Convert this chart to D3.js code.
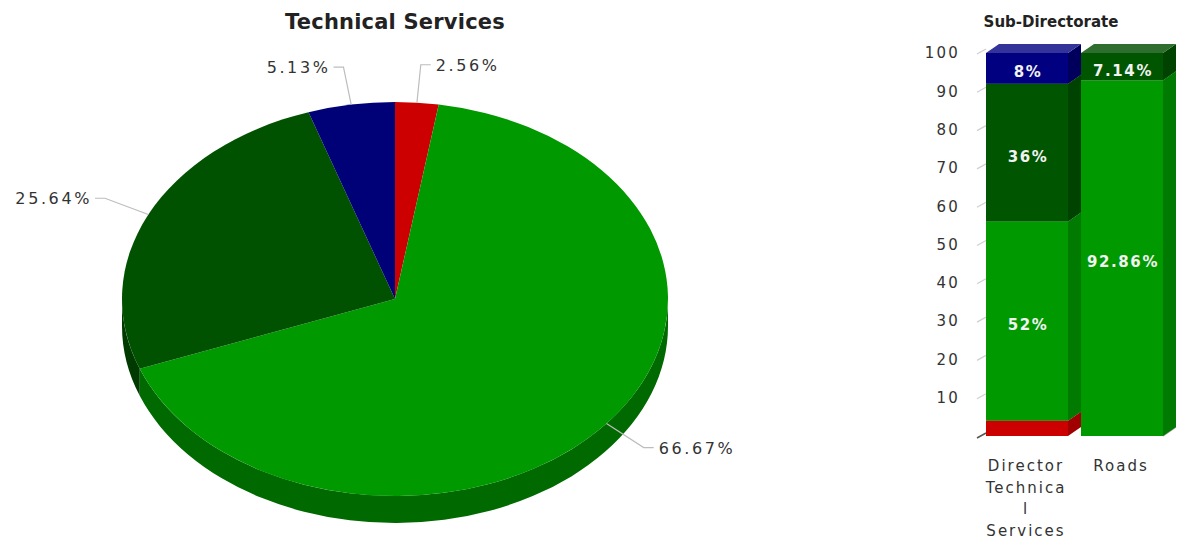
<!DOCTYPE html>
<html>
<head>
<meta charset="utf-8">
<script src="https://cdn.jsdelivr.net/npm/d3@7"></script>
<style>
  html, body { margin: 0; padding: 0; background: #fff; }
  svg { display: block; font-family: "DejaVu Sans", Verdana, sans-serif; }
</style>
</head>
<body>
<svg id="chart" width="1179" height="538"></svg>
<script>
// ---- data ----
const pieTitle = "Technical Services";
const pieValues = [2.56, 66.67, 25.64, 5.13];
const pieColors = ["#cc0000", "#009900", "#005200", "#000077"];
const pieSideColors = ["#990000", "#006a00", "#003a00", "#000050"];

const barTitle = "Sub-Directorate";
const barCategories = ["Director Technical Services", "Roads"];
const barCategoryLines = [["Director", "Technica", "l", "Services"], ["Roads"]];
const seriesRed = [4, 0];
const seriesGreen = [52, 92.86];
const seriesDarkGreen = [36, 7.14];
const seriesNavy = [8, 0];
const barSeries = [seriesRed, seriesGreen, seriesDarkGreen, seriesNavy];
const barShowLabel = [false, true, true, true];
const barFront = ["#cc0000", "#009900", "#005500", "#000080"];
const barSide = ["#a00000", "#007a00", "#004200", "#00005c"];
const barTop = ["#dd4444", "#33ad33", "#2f6e2f", "#333399"];
const yTicks = [10, 20, 30, 40, 50, 60, 70, 80, 90, 100];

const svg = d3.select("#chart");

// ---- 3D pie ----
const cx = 395, cy = 299, rx = 273, ry = 197, depth = 27;
const pt = (a, dy = 0, kx = 0, ky = 0) => [cx + (rx + kx) * Math.sin(a), cy - (ry + ky) * Math.cos(a) + dy];
const arcs = d3.pie().sort(null).value(d => d)(pieValues);

svg.append("text")
  .attr("x", 395).attr("y", 29)
  .attr("text-anchor", "middle")
  .attr("font-size", 21).attr("font-weight", "bold")
  .attr("letter-spacing", 0.2)
  .attr("fill", "#222")
  .text(pieTitle);

const pieG = svg.append("g");

// side walls (only the front half of the rim is visible)
arcs.forEach((d, i) => {
  const s0 = Math.max(d.startAngle, Math.PI / 2);
  const s1 = Math.min(d.endAngle, 3 * Math.PI / 2);
  if (s1 <= s0) return;
  const a = pt(s0), b = pt(s1), c = pt(s1, depth), e = pt(s0, depth);
  const p = `M${a} A${rx},${ry} 0 0 1 ${b} L${c} A${rx},${ry} 0 0 0 ${e} Z`;
  pieG.append("path").attr("d", p).attr("fill", pieSideColors[i]);
});

// top faces
arcs.forEach((d, i) => {
  const a = pt(d.startAngle), b = pt(d.endAngle);
  const large = d.endAngle - d.startAngle > Math.PI ? 1 : 0;
  const p = `M${cx},${cy} L${a} A${rx},${ry} 0 ${large} 1 ${b} Z`;
  pieG.append("path").attr("d", p).attr("fill", pieColors[i]);
});

// leader lines and labels
arcs.forEach((d, i) => {
  const mid = (d.startAngle + d.endAngle) / 2;
  const p0 = pt(mid);
  const p1 = pt(mid, 0, 48, 38);
  const right = Math.sin(mid) >= 0;
  const p2 = [p1[0] + (right ? 10 : -10), p1[1]];
  pieG.append("polyline")
    .attr("points", [p0, p1, p2].map(q => q.join(",")).join(" "))
    .attr("fill", "none").attr("stroke", "#bdbdbd").attr("stroke-width", 1.2);
  pieG.append("text")
    .attr("x", p2[0] + (right ? 5 : -3)).attr("y", p2[1] + 6)
    .attr("text-anchor", right ? "start" : "end")
    .attr("font-size", 16).attr("letter-spacing", 2.6)
    .attr("fill", "#333")
    .text(d3.format(".2f")(pieValues[i]) + "%");
});

// ---- 3D stacked bars ----
const dx = 13, dz = 9;
const x = d3.scaleBand().domain(barCategories).range([986, 1163]).paddingInner(13 / 95).paddingOuter(0).align(0);
const y = d3.scaleLinear().domain([0, 100]).range([436, 53]);
const x0 = 986;

svg.append("text")
  .attr("x", 1051).attr("y", 27)
  .attr("text-anchor", "middle")
  .attr("font-size", 15).attr("font-weight", "bold")
  .attr("fill", "#222")
  .text(barTitle);

const barG = svg.append("g");

// left wall tick marks and floor
yTicks.forEach(t => {
  barG.append("line")
    .attr("x1", x0 - 9).attr("y1", y(t) + 1)
    .attr("x2", x0).attr("y2", y(t) - 4)
    .attr("stroke", "#d0d0d0").attr("stroke-width", 1.3);
});
barG.append("line")
  .attr("x1", x0 - 9).attr("y1", y(0) + 2)
  .attr("x2", x0).attr("y2", y(0) - 3)
  .attr("stroke", "#555").attr("stroke-width", 1.5);
barG.append("line")
  .attr("x1", 1163).attr("y1", y(0))
  .attr("x2", 1176).attr("y2", y(0) - dz)
  .attr("stroke", "#999").attr("stroke-width", 1.2);

// y axis labels
svg.append("g")
  .attr("transform", `translate(${x0 - 30},0)`)
  .call(d3.axisLeft(y).tickValues(yTicks).tickSize(0).tickPadding(0).tickFormat(d3.format("d")))
  .call(g => g.select(".domain").remove())
  .call(g => g.selectAll("text")
    .attr("font-family", "DejaVu Sans, Verdana, sans-serif")
    .attr("font-size", 15).attr("letter-spacing", 2.2)
    .attr("fill", "#333").attr("dx", 4));

// bar segments
barCategories.forEach((cat, ci) => {
  const bx0 = x(cat), bx1 = bx0 + x.bandwidth();
  let base = 0;
  barSeries.forEach((s, si) => {
    const v = s[ci];
    if (!v) return;
    const yb = y(base), yt = y(base + v);
    // front face
    barG.append("rect")
      .attr("x", bx0).attr("y", yt)
      .attr("width", bx1 - bx0).attr("height", yb - yt)
      .attr("fill", barFront[si]);
    // right side
    barG.append("path")
      .attr("d", `M${bx1},${yb} L${bx1 + dx},${yb - dz} L${bx1 + dx},${yt - dz} L${bx1},${yt} Z`)
      .attr("fill", barSide[si]);
    // top face
    barG.append("path")
      .attr("d", `M${bx0},${yt} L${bx0 + dx},${yt - dz} L${bx1 + dx},${yt - dz} L${bx1},${yt} Z`)
      .attr("fill", barTop[si]);
    if (barShowLabel[si]) {
      barG.append("text")
        .attr("x", (bx0 + bx1) / 2 + 1).attr("y", (yb + yt) / 2 + 9)
        .attr("text-anchor", "middle")
        .attr("font-size", 15).attr("font-weight", "bold").attr("letter-spacing", 1.6)
        .attr("fill", "#f2f2f2")
        .text(d3.format("~f")(v) + "%");
    }
    base += v;
  });
});

// category labels
barCategories.forEach((cat, ci) => {
  const cxm = x(cat) + x.bandwidth() / 2;
  const t = svg.append("text")
    .attr("text-anchor", "middle")
    .attr("font-size", 15).attr("letter-spacing", 2)
    .attr("fill", "#333");
  barCategoryLines[ci].forEach((line, li) => {
    t.append("tspan").attr("x", cxm - 1).attr("y", 471 + li * 21.5).text(line);
  });
});
</script>
</body>
</html>
